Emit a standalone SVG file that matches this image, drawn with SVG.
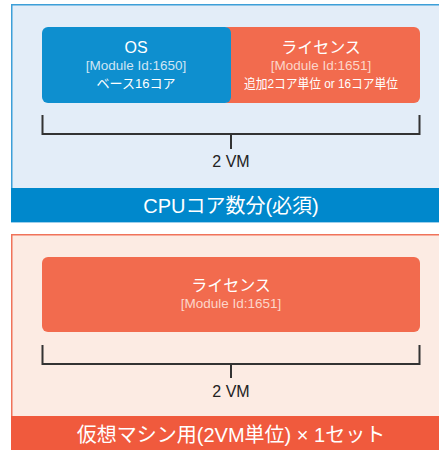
<svg xmlns="http://www.w3.org/2000/svg" width="439" height="450" viewBox="0 0 439 450">
<style>
text{font-family:"Liberation Sans","Noto Sans CJK JP",sans-serif;text-anchor:middle}
.t{fill:#fff;font-size:16px}
.m{fill:#cfe5f4;font-size:13.5px}
.mo{fill:#fcd6ca;font-size:13.5px}
.s{fill:#fff;font-size:13px}
.vm{fill:#222;font-size:16px}
.band{fill:#fff;font-size:20px}
.br{fill:none;stroke:#333;stroke-width:2}
</style>
<g id="panel-cpu">
<rect x="11.75" y="4.75" width="430" height="217" fill="#e3edf8" stroke="#3d9fd8" stroke-width="1.5"/>
<rect x="11" y="188" width="428" height="34" fill="#0088cc"/>
<text class="band" x="231" y="213">CPUコア数分(必須)</text>
</g>
<g id="license-1">
<rect x="222" y="27" width="198" height="76" rx="6" fill="#f26b4e"/>
<text class="t" x="321" y="53">ライセンス</text>
<text class="mo" x="321" y="70">[Module Id:1651]</text>
<text class="s" x="321" y="88" textLength="154" lengthAdjust="spacingAndGlyphs">追加2コア単位 or 16コア単位</text>
</g>
<g id="os">
<rect x="42" y="27" width="189" height="76" rx="6" fill="#0e8fcf"/>
<text class="t" x="136" y="53">OS</text>
<text class="m" x="136" y="70">[Module Id:1650]</text>
<text class="s" x="136" y="88">ベース16コア</text>
</g>
<g id="panel-vm">
<rect x="11.75" y="234.75" width="430" height="220" fill="#fcebe3" stroke="#f0735a" stroke-width="1.5"/>
<rect x="11" y="416" width="428" height="34" fill="#f05a3d"/>
<text class="band" x="231" y="442">仮想マシン用(2VM単位) × 1セット</text>
</g>
<g id="license-2">
<rect x="42" y="257" width="378" height="75" rx="6" fill="#f26b4e"/>
<text class="t" x="231" y="291">ライセンス</text>
<text class="mo" x="231" y="308">[Module Id:1651]</text>
</g>
<g id="connectors">
<path class="br" d="M42.5 115V134H419.5V115M231 134V149"/>
<path class="br" d="M42.5 345V364H419.5V345M231 364V378"/>
</g>
<g id="labels">
<text class="vm" x="231" y="167">2 VM</text>
<text class="vm" x="231" y="397">2 VM</text>
</g>
</svg>
